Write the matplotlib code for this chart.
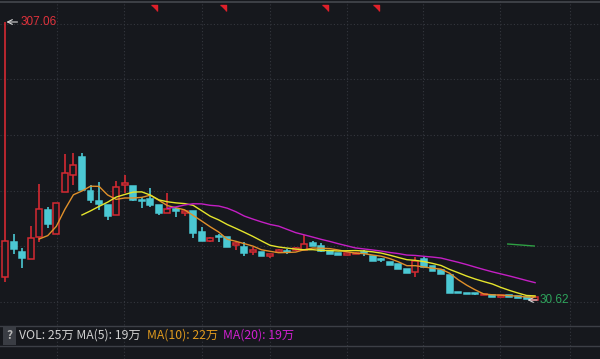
import matplotlib
matplotlib.use('Agg')
import matplotlib.pyplot as plt
import numpy as np
import pandas as pd
from matplotlib.patches import Rectangle

# daily candles, price
opens = [53.5, 88.3, 78.4, 71.4, 93.3, 120.1, 96.3, 138.0, 154.9, 172.8,
         139.0, 129.1, 125.1, 115.2, 145.0, 144.0, 130.1, 131.1, 125.1, 117.1,
         121.1, 117.1, 119.1, 98.3, 89.3, 94.3, 93.3, 85.3, 83.3, 78.4,
         78.4, 74.4, 78.4, 79.3, 80.3, 80.3, 87.3, 84.3, 79.3, 77.4,
         75.4, 76.4, 77.9, 74.4, 70.9, 68.4, 66.4, 61.5, 58.5, 71.4,
         64.4, 60.5, 55.5, 38.1, 37.1, 37.1, 35.1, 35.6, 34.1, 35.1,
         34.1, 33.1, 30.62]
closes = [89.3, 81.3, 72.4, 92.3, 121.1, 106.2, 127.1, 156.9, 164.9, 140.0,
          130.1, 126.1, 114.2, 143.0, 147.0, 130.1, 129.1, 125.1, 117.1, 121.1,
          119.1, 119.1, 97.3, 89.3, 92.3, 92.8, 83.3, 87.3, 77.4, 80.3,
          74.4, 75.9, 80.3, 78.4, 82.3, 86.3, 84.3, 79.3, 76.4, 75.4,
          77.4, 77.4, 76.9, 69.4, 69.9, 65.4, 61.5, 57.5, 69.4, 63.4,
          59.5, 56.5, 37.6, 37.1, 36.1, 36.1, 36.1, 33.6, 35.1, 34.1,
          33.1, 32.1, 33.6]
highs = [307.06, 96.3, 82.3, 104.2, 146.0, 123.1, 127.1, 175.8, 176.8, 176.8,
         145.0, 148.0, 125.1, 149.0, 154.9, 144.0, 133.1, 142.0, 125.1, 137.0,
         122.1, 120.1, 119.1, 103.2, 93.3, 96.3, 93.3, 88.3, 88.3, 83.3,
         78.4, 76.4, 81.3, 81.3, 83.3, 95.3, 89.3, 87.3, 79.3, 77.4,
         77.4, 78.4, 80.3, 74.4, 72.4, 68.4, 66.4, 61.5, 73.4, 73.4,
         64.4, 60.5, 55.5, 38.1, 37.1, 37.6, 36.1, 35.6, 35.1, 35.1,
         34.1, 33.1, 33.6]
lows = [48.5, 76.4, 62.4, 71.4, 88.3, 102.2, 96.3, 138.0, 145.0, 140.0,
        127.1, 120.1, 110.2, 115.2, 137.0, 129.1, 122.1, 123.1, 115.2, 117.1,
        113.2, 114.2, 92.3, 89.3, 88.3, 88.3, 83.3, 80.3, 74.4, 75.4,
        74.4, 72.4, 77.4, 76.4, 79.3, 80.3, 84.3, 78.4, 76.4, 75.4,
        75.4, 76.4, 74.4, 69.4, 68.4, 65.4, 61.5, 57.5, 53.5, 63.4,
        59.5, 56.5, 37.6, 37.1, 36.1, 35.6, 35.1, 33.6, 34.1, 34.1,
        33.1, 32.1, 30.62]

# little info flags along the top, and the short green drawn line
flag_days = [17.4, 25.5, 37.4, 43.4]
green_x = [58.8, 61.9]
green_y = [86.3, 84.3]

vol_texts = ['VOL: 25万 MA(5): 19万', 'MA(10): 22万', 'MA(20): 19万']

bg = '#16181d'
red = '#d42a32'
cyan = '#4bc8d3'
grid_c = '#34373e'

fig = plt.figure(figsize=(6, 3.59), dpi=100, facecolor=bg)
ax = fig.add_axes([0, 34 / 359, 1, 325 / 359])
ax.set_facecolor(bg)
ax.set_xlim(-0.585, 69.59)
ax.set_ylim(5.76, 328.94)
for s in ax.spines.values():
    s.set_visible(False)
ax.set_xticks([])
ax.set_yticks([])

# grid
for yy in [305.07, 250.38, 194.7, 139.0, 84.3, 28.6]:
    ax.axhline(yy, color=grid_c, lw=0.8, ls=(0, (1, 2)), zorder=0)
vgrid = [6.1, 13.9, 23.0, 31.0, 40.0, 48.9, 57.9, 66.1]
for xx in vgrid:
    ax.axvline(xx, color=grid_c, lw=0.8, ls=(0, (1, 2)), zorder=0)
ax.axhline(326.95, color='#44474e', lw=1.2, zorder=1)

# candles
n = len(closes)
w = 0.7
for i in range(n):
    o, c, h, l = opens[i], closes[i], highs[i], lows[i]
    up = c >= o
    col = red if up else cyan
    ax.vlines(i, l, h, color=col, lw=1.2, zorder=2)
    bottom = min(o, c)
    height = max(abs(c - o), 1.3)
    ax.add_patch(Rectangle((i - w / 2, bottom), w, height,
                           facecolor=bg if up else cyan,
                           edgecolor=col, lw=1.1, zorder=3))

# moving averages
cs = pd.Series(closes)
ax.plot(range(n), cs.rolling(5).mean(), color='#e0902a', lw=1, zorder=4)
ax.plot(range(n), cs.rolling(10).mean(), color='#e4e42c', lw=1, zorder=4)
ax.plot(range(n), cs.rolling(20).mean(), color='#c41fc4', lw=1, zorder=4)

ax.plot(green_x, green_y, color='#2ea043', lw=1, zorder=4)
ax.plot(flag_days, [321.0] * len(flag_days), ls='none',
        marker=[(-1, 1), (1, 1), (1, -1)], ms=4.5, color='#e0202a', zorder=5)

# max / min labels
hi_i = int(np.argmax(highs))
lo_i = int(np.argmin(lows))
ax.annotate(f'{highs[hi_i]:.2f}', xy=(hi_i, highs[hi_i]), xytext=(11, 0),
            textcoords='offset points', va='center', ha='left',
            color='#e0323c', fontsize=8.5, family='Liberation Sans',
            arrowprops=dict(arrowstyle='->', color='#d8d8d8', lw=0.8,
                            shrinkA=0, shrinkB=1))
ax.annotate(f'{lows[lo_i]:.2f}', xy=(lo_i - 0.9, lows[lo_i]), xytext=(9, 0),
            textcoords='offset points', va='center', ha='left',
            color='#2ea35b', fontsize=8.5, family='Liberation Sans',
            arrowprops=dict(arrowstyle='->', color='#d8d8d8', lw=0.8,
                            shrinkA=0, shrinkB=0))

# bottom volume strip
ax2 = fig.add_axes([0, 0, 1, 34 / 359])
ax2.set_facecolor(bg)
ax2.set_xlim(-0.585, 69.59)
ax2.set_ylim(0, 1)
for s in ax2.spines.values():
    s.set_visible(False)
ax2.set_xticks([])
ax2.set_yticks([])
for xx in vgrid:
    ax2.axvline(xx, color=grid_c, lw=0.8, ls=(0, (1, 2)), zorder=0)
ax2.axhline(0.985, color='#3c3f46', lw=1, zorder=1)
ax2.axhline(0.38, color='#3c3f46', lw=1, zorder=1)

fig.patches.append(Rectangle((3 / 600, 14 / 359), 13 / 600, 19 / 359,
                             transform=fig.transFigure, facecolor='#3a3d44',
                             edgecolor='none', zorder=2))
fam = ['Noto Sans CJK SC', 'DejaVu Sans']
fig.text(9.5 / 600, 23.5 / 359, '?', color='#b8b8b8', fontsize=8.5,
         ha='center', va='center', family=fam, fontweight='bold')
fig.text(19 / 600, 23.5 / 359, vol_texts[0], color='#d0d0d0', fontsize=8.8,
         ha='left', va='center', family=fam)
fig.text(147 / 600, 23.5 / 359, vol_texts[1], color='#e09a1e', fontsize=8.8,
         ha='left', va='center', family=fam)
fig.text(223 / 600, 23.5 / 359, vol_texts[2], color='#d020d0', fontsize=8.8,
         ha='left', va='center', family=fam)

fig.savefig('out.png', dpi=100, facecolor=bg)
